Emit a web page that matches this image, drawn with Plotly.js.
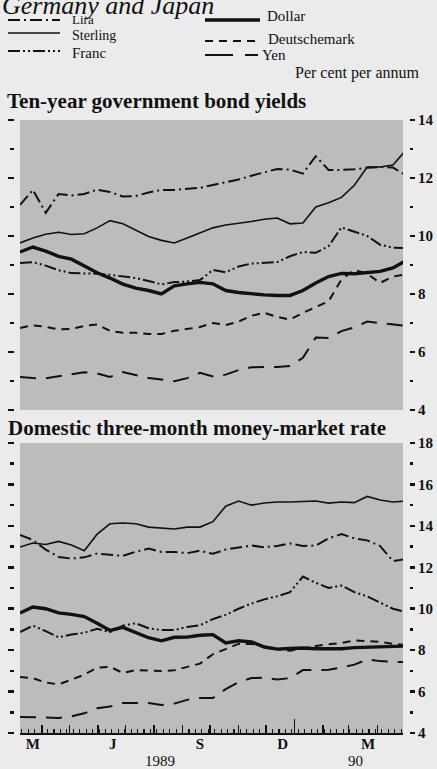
<!DOCTYPE html>
<html>
<head>
<meta charset="utf-8">
<script src="https://cdn.plot.ly/plotly-3.0.1.min.js"></script>
<style>
html,body{margin:0;padding:0;background:#ebebeb;}
#chart{width:437px;height:769px;}
</style>
</head>
<body>
<div id="chart"></div>
<script>
// ---- DATA (fortnightly readings, per cent per annum) ----
const dates = ['1989-03-08','1989-03-22','1989-04-05','1989-04-19','1989-05-03','1989-05-17','1989-05-31',
  '1989-06-14','1989-06-28','1989-07-12','1989-07-26','1989-08-09','1989-08-23','1989-09-06','1989-09-20',
  '1989-10-04','1989-10-18','1989-11-01','1989-11-15','1989-11-29','1989-12-13','1989-12-27','1990-01-10',
  '1990-01-24','1990-02-07','1990-02-21','1990-03-07','1990-03-21','1990-04-04','1990-04-18','1990-05-02'];

const seriesNames = ['Lira','Sterling','Franc','Dollar','Deutschemark','Yen'];

// Ten-year government bond yields
const bondLira     = [11.07,11.59,10.8,11.45,11.4,11.45,11.6,11.52,11.36,11.38,11.5,11.59,11.59,11.62,11.66,11.76,11.86,11.95,12.08,12.2,12.31,12.29,12.15,12.75,12.28,12.28,12.3,12.35,12.38,12.36,12.1];
const bondSterling = [9.76,9.93,10.06,10.13,10.05,10.08,10.28,10.53,10.42,10.2,9.98,9.85,9.76,9.93,10.1,10.28,10.38,10.43,10.5,10.58,10.62,10.42,10.45,11.0,11.15,11.33,11.75,12.38,12.38,12.45,12.95];
const bondFranc    = [9.07,9.1,8.98,8.82,8.72,8.72,8.7,8.66,8.6,8.55,8.45,8.33,8.41,8.43,8.48,8.83,8.75,8.95,9.05,9.08,9.1,9.3,9.45,9.42,9.65,10.3,10.14,10.0,9.7,9.6,9.58];
const bondDollar   = [9.45,9.62,9.48,9.3,9.2,8.95,8.73,8.55,8.34,8.2,8.12,8.0,8.28,8.35,8.4,8.35,8.12,8.05,8.0,7.97,7.95,7.95,8.12,8.38,8.6,8.71,8.7,8.73,8.78,8.9,9.15];
const bondDM       = [6.83,6.92,6.87,6.78,6.8,6.9,6.95,6.73,6.66,6.66,6.62,6.62,6.73,6.8,6.86,7.0,6.93,7.05,7.25,7.35,7.21,7.12,7.35,7.55,7.75,8.5,8.83,8.7,8.38,8.6,8.68];
const bondYen      = [5.14,5.1,5.09,5.16,5.22,5.3,5.26,5.14,5.31,5.2,5.1,5.05,4.99,5.1,5.28,5.16,5.22,5.38,5.47,5.48,5.48,5.52,5.8,6.5,6.48,6.72,6.85,7.05,7.0,6.93,6.9];

// Domestic three-month money-market rate
const mmLira     = [13.56,13.32,12.85,12.5,12.42,12.48,12.66,12.6,12.55,12.75,12.9,12.74,12.74,12.68,12.8,12.65,12.86,12.95,13.05,12.97,13.03,13.15,13.03,13.05,13.4,13.6,13.4,13.3,13.03,12.3,12.4];
const mmSterling = [12.98,13.17,13.1,13.25,13.08,12.8,13.6,14.1,14.14,14.1,13.94,13.9,13.85,13.94,13.94,14.2,14.95,15.2,15.0,15.1,15.15,15.15,15.17,15.2,15.1,15.15,15.12,15.42,15.25,15.15,15.2];
const mmFranc    = [8.87,9.18,8.92,8.62,8.75,8.84,9.03,8.87,9.18,9.3,9.06,8.97,8.97,9.12,9.2,9.5,9.7,10.0,10.25,10.45,10.6,10.8,11.55,11.25,11.0,11.12,10.8,10.6,10.3,10.0,9.84];
const mmDollar   = [9.79,10.08,10.0,9.8,9.73,9.62,9.3,8.95,9.1,8.85,8.6,8.45,8.62,8.63,8.72,8.75,8.35,8.45,8.4,8.15,8.05,8.08,8.1,8.07,8.07,8.07,8.12,8.15,8.17,8.18,8.2];
const mmDM       = [6.7,6.65,6.43,6.35,6.57,6.82,7.15,7.2,6.9,7.04,7.02,6.99,7.03,7.18,7.35,7.8,8.05,8.3,8.3,8.17,8.05,7.97,8.1,8.2,8.28,8.35,8.47,8.45,8.4,8.3,8.25];
const mmYen      = [4.77,4.77,4.75,4.73,4.8,4.95,5.2,5.28,5.45,5.45,5.45,5.35,5.42,5.6,5.69,5.69,6.12,6.45,6.65,6.67,6.58,6.65,7.04,7.04,7.05,7.16,7.3,7.55,7.47,7.43,7.42];

const bondTicks = [4,6,8,10,12,14];
const mmTicks = [4,6,8,10,12,14,16,18];
const monthLabelDates = ['1989-03-22','1989-06-17','1989-09-20','1989-12-19','1990-03-22'];
const monthLabels = ['M','J','S','D','M'];
const monthStarts = ['1989-04-01','1989-05-01','1989-06-01','1989-07-01','1989-08-01','1989-09-01','1989-10-01',
  '1989-11-01','1989-12-01','1990-01-01','1990-02-01','1990-03-01','1990-04-01'];
const yearStart = ['1990-01-01'];
const yearLabels = ['1989','90'];
const yearLabelDates = ['1989-08-07','1990-03-08'];

// ---- STYLES ----
const INK = '#111';
const styles = {
  Lira:         {dash:'12px,4px,2px,4px', width:2},
  Sterling:     {dash:'solid', width:1.6},
  Franc:        {dash:'12px,3px,2px,3px,2px,3px', width:2},
  Dollar:       {dash:'solid', width:3.4},
  Deutschemark: {dash:'8px,6px', width:2},
  Yen:          {dash:'16px,10px', width:2}
};
const SERIF = 'Liberation Serif, Times New Roman, serif';
const W = 437, H = 769;
const px = v => v / W;
const py = v => 1 - v / H;

const bondData = [bondLira,bondSterling,bondFranc,bondDollar,bondDM,bondYen];
const mmData = [mmLira,mmSterling,mmFranc,mmDollar,mmDM,mmYen];

const traces = [];
seriesNames.forEach((n,i)=>{
  traces.push({x:dates, y:bondData[i], xaxis:'x', yaxis:'y', mode:'lines', name:n, showlegend:false,
    line:{color:INK, width:styles[n].width, dash:styles[n].dash}, hoverinfo:'skip'});
});
seriesNames.forEach((n,i)=>{
  traces.push({x:dates, y:mmData[i], xaxis:'x2', yaxis:'y2', mode:'lines', name:n, showlegend:false,
    line:{color:INK, width:styles[n].width, dash:styles[n].dash}, hoverinfo:'skip'});
});
// empty carriers so the overlay axes (extra tick rows) get drawn
[['x','y3'],['x2','y4'],['x3','y2'],['x4','y2']].forEach(p=>{
  traces.push({x:[], y:[], xaxis:p[0], yaxis:p[1], mode:'lines', showlegend:false, hoverinfo:'skip'});
});

const xDom = [px(20), px(403)];
const xRange = ['1989-03-08','1990-04-29'];
const topDom = [py(410), py(120)];
const botDom = [py(733), py(443)];
const tickFont = {family:SERIF, size:15, color:INK, weight:'bold'};

function halves(ticks){
  const m = [];
  for (let k=0;k<ticks.length-1;k++) m.push((ticks[k]+ticks[k+1])/2);
  return m;
}
function rightY(dom, ticks, range){
  return {domain:dom, range:range, anchor:'free', position:px(409), side:'right',
    tickmode:'array', tickvals:ticks, ticktext:ticks.map(String), ticks:'outside', ticklen:5, tickwidth:2.5, tickcolor:INK,
    minor:{tickmode:'array', tickvals:halves(ticks), ticks:'outside', ticklen:3, tickwidth:2.5, tickcolor:INK},
    showgrid:false, zeroline:false, showline:false, tickfont:tickFont, fixedrange:true};
}
function leftY(over, dom, ticks, range){
  return {overlaying:over, domain:dom, range:range, anchor:'free', position:px(14), side:'left',
    tickmode:'array', tickvals:ticks, showticklabels:false, ticks:'outside', ticklen:6, tickwidth:2.5, tickcolor:INK,
    minor:{tickmode:'array', tickvals:halves(ticks), ticks:'outside', ticklen:4, tickwidth:2.5, tickcolor:INK},
    showgrid:false, zeroline:false, showline:false, fixedrange:true};
}

const legendRows = [
  {n:'Lira', x0:8, x1:60, y:20, tx:71, ty:19.5, fs:13},
  {n:'Sterling', x0:8, x1:60, y:33, tx:71, ty:36, fs:14},
  {n:'Franc', x0:8, x1:60, y:51, tx:71, ty:53, fs:15},
  {n:'Dollar', x0:205, x1:260, y:20, tx:266, ty:16, fs:15},
  {n:'Deutschemark', x0:205, x1:260, y:41, tx:267, ty:39, fs:15},
  {n:'Yen', x0:205, x1:258, y:55, tx:261, ty:55, fs:15}
];

const shapes = [
  {type:'rect', xref:'x domain', yref:'y domain', x0:0, x1:1, y0:0, y1:1, fillcolor:'#bcbcbc', line:{width:0}, layer:'below'},
  {type:'rect', xref:'x2 domain', yref:'y2 domain', x0:0, x1:1, y0:0, y1:1, fillcolor:'#bcbcbc', line:{width:0}, layer:'below'}
];
legendRows.forEach(r=>{
  const s = styles[r.n];
  shapes.push({type:'line', xref:'paper', yref:'paper', x0:px(r.x0), x1:px(r.x1), y0:py(r.y), y1:py(r.y),
    line:{color:INK, width:s.width, dash: r.n==='Yen' ? '28px,12px' : s.dash}});
});

const annotations = [
  {text:'<i>Germany and Japan</i>', xref:'paper', yref:'paper', x:px(0), y:py(6), xanchor:'left', yanchor:'middle',
    showarrow:false, font:{family:SERIF, size:26, color:INK}},
  {text:'Per cent per annum', xref:'paper', yref:'paper', x:px(293), y:py(73), xanchor:'left', yanchor:'middle',
    showarrow:false, font:{family:SERIF, size:16, color:INK}},
  {text:'<b>Ten-year government bond yields</b>', xref:'paper', yref:'paper', x:px(5), y:py(101), xanchor:'left', yanchor:'middle',
    showarrow:false, font:{family:SERIF, size:21, color:INK}},
  {text:'<b>Domestic three-month money-market rate</b>', xref:'paper', yref:'paper', x:px(6), y:py(428), xanchor:'left', yanchor:'middle',
    showarrow:false, font:{family:SERIF, size:21, color:INK}}
];
legendRows.forEach(r=>{
  annotations.push({text:r.n, xref:'paper', yref:'paper', x:px(r.tx), y:py(r.ty), xanchor:'left', yanchor:'middle',
    showarrow:false, borderpad:0, font:{family:SERIF, size:r.fs, color:INK}});
});
yearLabels.forEach((t,i)=>{
  annotations.push({text:t, xref:'x2', yref:'paper', x:yearLabelDates[i], y:py(761), xanchor:'center', yanchor:'middle',
    showarrow:false, font:{family:SERIF, size:15, color:INK}});
});

const layout = {
  width:W, height:H,
  margin:{l:0,r:0,t:0,b:0},
  paper_bgcolor:'#ebebeb', plot_bgcolor:'rgba(0,0,0,0)',
  showlegend:false,
  xaxis:{domain:xDom, range:xRange, type:'date', anchor:'y', showticklabels:false, ticks:'', showgrid:false, zeroline:false, showline:false, fixedrange:true},
  yaxis:rightY(topDom, bondTicks, [4,14]),
  yaxis3:leftY('y', topDom, bondTicks, [4,14]),
  xaxis2:{domain:xDom, range:xRange, type:'date', anchor:'y2', tickmode:'array', tickvals:monthStarts, showticklabels:false,
    ticks:'inside', ticklen:8, tickwidth:1.3, tickcolor:INK, showline:true, linewidth:1.8, linecolor:INK, mirror:false,
    minor:{tick0:'1989-03-10', dtick:7*86400000, ticks:'inside', ticklen:4, tickwidth:1.2, tickcolor:INK},
    showgrid:false, zeroline:false, fixedrange:true},
  xaxis3:{overlaying:'x2', domain:xDom, anchor:'y2', range:xRange, type:'date', tickmode:'array', tickvals:monthLabelDates, ticktext:monthLabels,
    ticks:'', ticklabelstandoff:0, tickfont:{family:SERIF, size:15, color:INK, weight:'bold'}, showgrid:false, zeroline:false, showline:false, fixedrange:true},
  xaxis4:{overlaying:'x2', domain:xDom, anchor:'y2', range:xRange, type:'date', tickmode:'array', tickvals:yearStart, showticklabels:false,
    ticks:'inside', ticklen:14, tickwidth:1.3, tickcolor:INK, showgrid:false, zeroline:false, showline:false, fixedrange:true},
  yaxis2:rightY(botDom, mmTicks, [4,18]),
  yaxis4:leftY('y2', botDom, mmTicks, [4,18]),
  shapes:shapes,
  annotations:annotations
};

Plotly.newPlot('chart', traces, layout, {staticPlot:true, displayModeBar:false});
</script>
</body>
</html>
